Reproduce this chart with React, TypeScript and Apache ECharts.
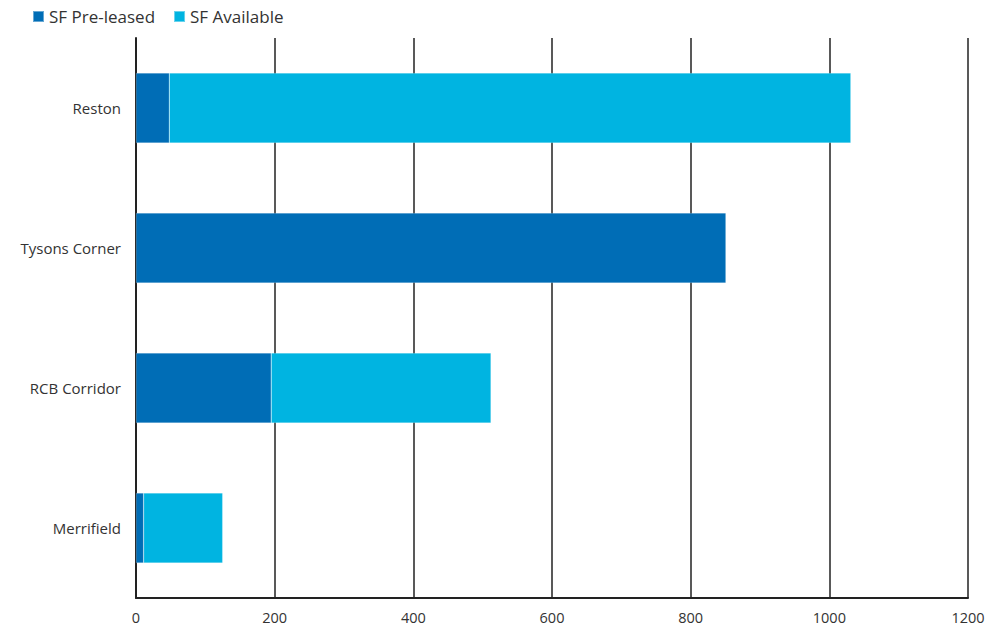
import React, { useEffect, useRef } from "react";
import * as echarts from "echarts";

const categories = ["Merrifield", "RCB Corridor", "Tysons Corner", "Reston"];
const preLeased = [11, 195, 851, 48];
const available = [114, 317, 0, 983];
const xTicks = { min: 0, max: 1200, interval: 200 };

export default function App() {
  const ref = useRef<HTMLDivElement>(null);
  useEffect(() => {
    if (!ref.current) return;
    const chart = echarts.init(ref.current, undefined, { renderer: "svg" });
    chart.setOption({
      animation: false,
      textStyle: { fontFamily: "Open Sans" },
      legend: {
        left: 27,
        top: 3,
        itemWidth: 11,
        itemHeight: 11,
        itemGap: 18,
        icon: "rect",
        textStyle: { fontSize: 17, color: "#333", fontFamily: "Open Sans" },
        data: ["SF Pre-leased", "SF Available"],
      },
      grid: { left: 136, right: 29, top: 38, bottom: 31, containLabel: false },
      xAxis: {
        type: "value",
        min: xTicks.min,
        max: xTicks.max,
        interval: xTicks.interval,
        axisLine: { show: true, lineStyle: { color: "#222", width: 2 } },
        axisTick: { show: false },
        splitLine: { show: true, lineStyle: { color: "#222", width: 1.5 } },
        axisLabel: { color: "#333", fontSize: 14.5, margin: 12, fontFamily: "Open Sans", formatter: (v: number) => String(v) },
      },
      yAxis: {
        type: "category",
        data: categories,
        axisLine: { show: true, lineStyle: { color: "#222", width: 2 } },
        axisTick: { show: false },
        axisLabel: { color: "#333", fontSize: 15, margin: 15, fontFamily: "Open Sans" },
      },
      series: [
        {
          name: "SF Pre-leased",
          type: "bar",
          stack: "total",
          barWidth: "50%",
          data: preLeased,
          itemStyle: { color: "#006db6", borderColor: "rgba(255,255,255,0.4)", borderWidth: 0.5 },
        },
        {
          name: "SF Available",
          type: "bar",
          stack: "total",
          barWidth: "50%",
          data: available,
          itemStyle: { color: "#00b4e1", borderColor: "rgba(255,255,255,0.4)", borderWidth: 0.5 },
        },
      ],
    });
    return () => chart.dispose();
  }, []);
  return <div ref={ref} style={{ width: 997, height: 629, position: "absolute", left: 0, top: 0 }} />;
}
